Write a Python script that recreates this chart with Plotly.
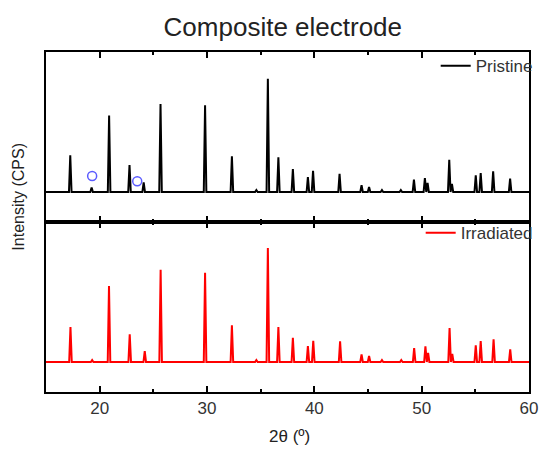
import plotly.graph_objects as go
from plotly.subplots import make_subplots

# Peak positions (2theta, deg) and intensities (arb. CPS)
pristine_pos = [17.26, 19.25, 20.88, 22.78, 24.10, 25.67, 29.82, 32.32, 34.60, 35.67,
                36.65, 38.00, 39.40, 39.88, 42.35, 44.40, 45.10, 46.30, 48.06, 49.28,
                50.30, 50.55, 52.57, 52.82, 55.04, 55.50, 56.66, 58.24]
pristine_int = [366, 45, 766, 270, 97, 880, 867, 357, 20, 1133,
                347, 230, 150, 213, 183, 67, 50, 20, 20, 123,
                140, 90, 323, 80, 167, 190, 207, 133]

irradiated_pos = [17.28, 19.30, 20.87, 22.80, 24.20, 25.68, 29.82, 32.32, 34.60, 35.67,
                  36.65, 38.00, 39.40, 39.90, 42.40, 44.40, 45.10, 46.30, 48.10, 49.30,
                  50.35, 50.60, 52.60, 52.85, 55.04, 55.50, 56.70, 58.25]
irradiated_int = [350, 20, 760, 277, 110, 923, 893, 367, 20, 1140,
                  350, 243, 160, 213, 207, 77, 60, 20, 20, 140,
                  157, 90, 340, 80, 167, 210, 227, 127]

marker_pos = [19.3, 23.5]
marker_int = [160, 107]

x_range = [15, 60]
x_ticks = [20, 30, 40, 50, 60]

HALF = 0.12  # drawn half-width of each peak (style)


def stick_profile(pos, inten, lo, hi):
    xs, ys = [lo], [0]
    for p, h in zip(pos, inten):
        xs += [p - HALF, p, p + HALF]
        ys += [0, h, 0]
    xs.append(hi)
    ys.append(0)
    return xs, ys


px, py = stick_profile(pristine_pos, pristine_int, x_range[0], x_range[1])
ix, iy = stick_profile(irradiated_pos, irradiated_int, x_range[0], x_range[1])

FONT = "Liberation Sans, Arial, sans-serif"

fig = make_subplots(rows=2, cols=1, shared_xaxes=True, vertical_spacing=0)

fig.add_trace(go.Scatter(x=px, y=py, mode="lines", name="Pristine",
                         line=dict(color="black", width=2), legend="legend"),
              row=1, col=1)
fig.add_trace(go.Scatter(x=marker_pos, y=marker_int, mode="markers", showlegend=False,
                         marker=dict(symbol="circle-open", size=9,
                                     color="#5b5bff", line=dict(width=1.5))),
              row=1, col=1)
fig.add_trace(go.Scatter(x=ix, y=iy, mode="lines", name="Irradiated",
                         line=dict(color="#ff0000", width=2), legend="legend2"),
              row=2, col=1)

axis_common = dict(range=x_range, showline=True, linecolor="black", linewidth=2,
                   mirror="ticks", ticks="inside", ticklen=6, tickwidth=2,
                   tickcolor="black", tickvals=x_ticks, showgrid=False, zeroline=False,
                   minor=dict(ticks="inside", ticklen=3, tickwidth=2, dtick=5,
                              tick0=15, tickcolor="black", showgrid=False))
fig.update_xaxes(**axis_common)
fig.update_xaxes(showticklabels=False, row=1, col=1)
fig.update_xaxes(showticklabels=True, tickfont=dict(size=17, color="#333", family=FONT),
                 row=2, col=1)

fig.update_yaxes(range=[-300, 1400], showline=True, linecolor="black", linewidth=2,
                 mirror=True, ticks="", showticklabels=False, showgrid=False,
                 zeroline=False)

# The page body adds an 8px offset; the figure is sized/margined to compensate.
fig.update_layout(
    width=541, height=443,
    margin=dict(l=38, r=11, t=44, b=59),
    paper_bgcolor="white", plot_bgcolor="white",
    font=dict(family=FONT, color="#222"),
    title=dict(text="Composite electrode", x=0.508, xref="container", xanchor="center",
               y=0.957, yref="container", yanchor="middle",
               font=dict(size=26, family=FONT, color="#222")),
    legend=dict(x=1.018, xanchor="right", y=1.011, yanchor="top", bgcolor="rgba(0,0,0,0)",
                font=dict(size=17, family=FONT, color="#333"),
                itemwidth=30, tracegroupgap=0),
    legend2=dict(x=1.018, xanchor="right", y=0.52, yanchor="top", bgcolor="rgba(0,0,0,0)",
                 font=dict(size=17, family=FONT, color="#333"),
                 itemwidth=30, tracegroupgap=0),
    annotations=[
        dict(text="Intensity (CPS)", xref="paper", yref="paper", x=-0.057, y=0.576,
             textangle=-90, showarrow=False, xanchor="center", yanchor="middle",
             font=dict(size=16, family=FONT, color="#222")),
        dict(text="2θ (º)", xref="paper", yref="paper", x=0.504, y=-0.132,
             showarrow=False, xanchor="center", yanchor="middle",
             font=dict(size=17, family=FONT, color="#222")),
    ],
)

fig.write_html("out.html")
